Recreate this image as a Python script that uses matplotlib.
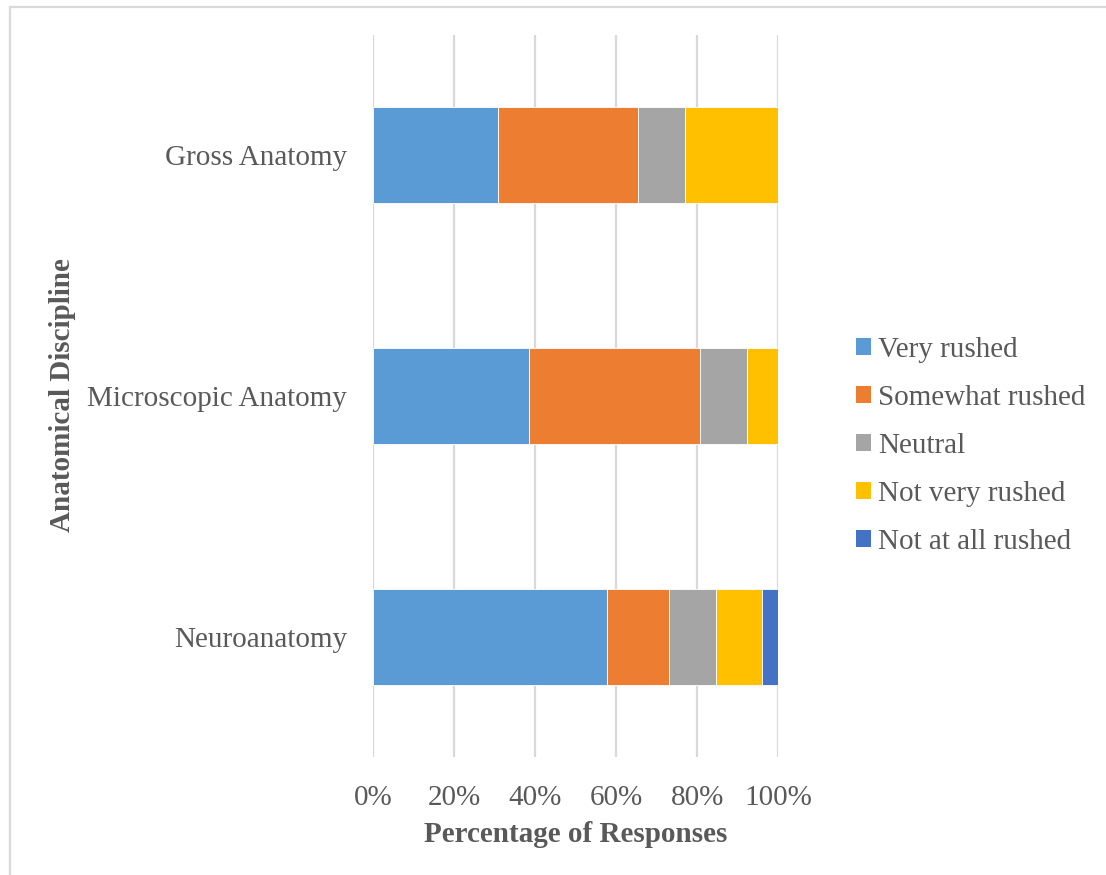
import matplotlib
matplotlib.use("Agg")
import matplotlib.pyplot as plt
from matplotlib.patches import Patch, Rectangle
import numpy as np

# Survey results: share of responses (%) per anatomical discipline
disciplines = ["Gross Anatomy", "Microscopic Anatomy", "Neuroanatomy"]
responses = ["Very rushed", "Somewhat rushed", "Neutral", "Not very rushed", "Not at all rushed"]
very_rushed = [30.8, 38.5, 57.7]
somewhat_rushed = [34.6, 42.3, 15.4]
neutral = [11.5, 11.5, 11.5]
not_very_rushed = [23.1, 7.7, 11.5]
not_at_all_rushed = [0.0, 0.0, 3.9]
x_ticks = [0, 20, 40, 60, 80, 100]

colors = ["#5B9BD5", "#ED7D31", "#A5A5A5", "#FFC000", "#4472C4"]
text_color = "#595959"
grid_color = "#D9D9D9"
font = "Liberation Serif"
fs = 21

fig = plt.figure(figsize=(11.06, 8.75), dpi=100)
ax = fig.add_axes([0.3377, 0.1349, 0.3657, 0.8251])

series = [very_rushed, somewhat_rushed, neutral, not_very_rushed, not_at_all_rushed]
ypos = np.arange(len(disciplines))
left = np.zeros(len(disciplines))
for vals, col, name in zip(series, colors, responses):
    vals = np.array(vals)
    ax.barh(ypos, vals, left=left, height=0.4, color=col,
            edgecolor="white", linewidth=0.6, label=name, zorder=3)
    left += vals

ax.set_xlim(0, 100)
ax.set_ylim(len(disciplines) - 0.5, -0.5)
ax.set_xticks(x_ticks)
ax.set_xticklabels([f"{t}%" for t in x_ticks])
ax.set_yticks(ypos)
ax.set_yticklabels(disciplines)
ax.xaxis.grid(True, color=grid_color, linewidth=1.6, zorder=0)
ax.set_axisbelow(True)
for s in ax.spines.values():
    s.set_visible(False)
ax.tick_params(axis="both", length=0, labelsize=fs, labelcolor=text_color)
ax.tick_params(axis="y", pad=19)
ax.tick_params(axis="x", pad=20)
for lab in ax.get_xticklabels() + ax.get_yticklabels():
    lab.set_fontfamily(font)

fig.text(576 / 1106, 1 - 835 / 875, "Percentage of Responses", ha="center", va="center",
         fontsize=fs, fontweight="bold", color=text_color, family=font)
fig.text(63 / 1106, 1 - 395 / 875, "Anatomical Discipline", ha="center", va="center",
         rotation=90, fontsize=fs, fontweight="bold", color=text_color, family=font)

handles = [Patch(facecolor=c, edgecolor="none") for c in colors]
leg = fig.legend(handles, responses, loc="center left",
                 bbox_to_anchor=(841 / 1106, 1 - 446 / 875), frameon=False,
                 prop={"family": font, "size": fs}, handlelength=0.52, handleheight=0.52,
                 handletextpad=0.25, labelspacing=0.75, borderpad=0)
for t in leg.get_texts():
    t.set_color(text_color)

# light frame around the chart area
fig.patches.append(Rectangle((10 / 1106, -0.05), 1.2, 1 - 7 / 875 + 0.05,
                             transform=fig.transFigure, fill=False,
                             edgecolor=grid_color, linewidth=1.6))

fig.savefig("out.png", dpi=100)
